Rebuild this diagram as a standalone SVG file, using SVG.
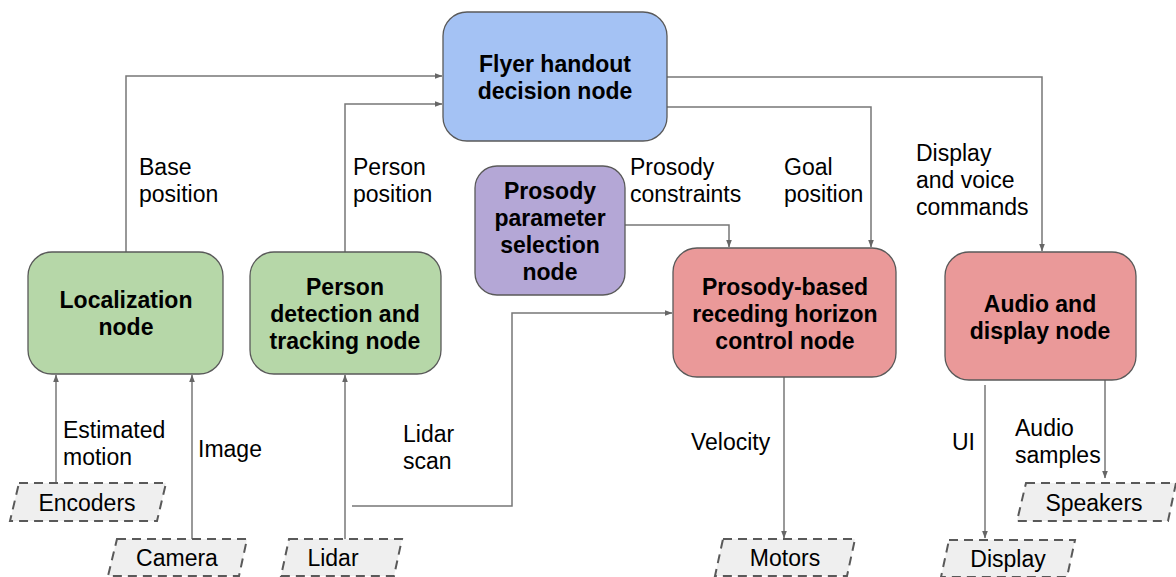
<svg xmlns="http://www.w3.org/2000/svg" width="1176" height="577" viewBox="0 0 1176 577">
<style>
.node{stroke:#595959;stroke-width:1.3}
.t{font-family:"Liberation Sans",Arial,sans-serif;font-size:23px;fill:#000}
.b{font-weight:bold;text-anchor:middle}
.io{fill:#efefef;stroke:#595959;stroke-width:2;stroke-dasharray:9 6}
.c{fill:none;stroke:#777;stroke-width:1.5}
</style>
<defs>
<marker id="a" markerWidth="8" markerHeight="8" refX="7" refY="4" orient="auto" markerUnits="userSpaceOnUse">
<path d="M0,1.2 L7.5,4 L0,6.8 Z" fill="#666"/>
</marker>
</defs>
<rect width="1176" height="577" fill="#fff"/>
<g id="connectors">
<path class="c" d="M126,252 V76 H442" marker-end="url(#a)"/>
<path class="c" d="M345,252 V104 H442" marker-end="url(#a)"/>
<path class="c" d="M667,77 H1042 V251" marker-end="url(#a)"/>
<path class="c" d="M667,107 H871 V247" marker-end="url(#a)"/>
<path class="c" d="M625,225 H729 V247" marker-end="url(#a)"/>
<path class="c" d="M352,506 H512 V313 H672" marker-end="url(#a)"/>
<path class="c" d="M345,539 V375" marker-end="url(#a)"/>
<path class="c" d="M56,483 V375" marker-end="url(#a)"/>
<path class="c" d="M192,539 V375" marker-end="url(#a)"/>
<path class="c" d="M784,377 V538" marker-end="url(#a)"/>
<path class="c" d="M985,385 V538" marker-end="url(#a)"/>
<path class="c" d="M1105,380 V478" marker-end="url(#a)"/>
<text class="t" x="139" y="175">Base</text>
<text class="t" x="139" y="202">position</text>
<text class="t" x="353" y="175">Person</text>
<text class="t" x="353" y="202">position</text>
<text class="t" x="630" y="175">Prosody</text>
<text class="t" x="630" y="202">constraints</text>
<text class="t" x="784" y="175">Goal</text>
<text class="t" x="784" y="202">position</text>
<text class="t" x="916" y="161">Display</text>
<text class="t" x="916" y="188">and voice</text>
<text class="t" x="916" y="215">commands</text>
<text class="t" x="63" y="438">Estimated</text>
<text class="t" x="63" y="465">motion</text>
<text class="t" x="198" y="457">Image</text>
<text class="t" x="403" y="442">Lidar</text>
<text class="t" x="403" y="469">scan</text>
<text class="t" x="691" y="450">Velocity</text>
<text class="t" x="952" y="450">UI</text>
<text class="t" x="1015" y="436">Audio</text>
<text class="t" x="1015" y="463">samples</text>
</g>
<g id="flyer">
<rect class="node" x="443" y="12" width="224" height="129" rx="24" fill="#a4c2f4"/>
<text class="t b" x="555" y="72">Flyer handout</text>
<text class="t b" x="555" y="99">decision node</text>
</g>
<g id="localization">
<rect class="node" x="28" y="252" width="195" height="122" rx="24" fill="#b6d7a8"/>
<text class="t b" x="126" y="308">Localization</text>
<text class="t b" x="126" y="335">node</text>
</g>
<g id="person">
<rect class="node" x="250" y="252" width="191" height="122" rx="24" fill="#b6d7a8"/>
<text class="t b" x="345" y="295">Person</text>
<text class="t b" x="345" y="322">detection and</text>
<text class="t b" x="345" y="349">tracking node</text>
</g>
<g id="prosody-param">
<rect class="node" x="475" y="166" width="150" height="129" rx="22" fill="#b4a7d6"/>
<text class="t b" x="550" y="199">Prosody</text>
<text class="t b" x="550" y="226">parameter</text>
<text class="t b" x="550" y="253">selection</text>
<text class="t b" x="550" y="280">node</text>
</g>
<g id="prosody-control">
<rect class="node" x="673" y="248" width="223" height="129" rx="24" fill="#ea9999"/>
<text class="t b" x="785" y="295">Prosody-based</text>
<text class="t b" x="785" y="322">receding horizon</text>
<text class="t b" x="785" y="349">control node</text>
</g>
<g id="audio">
<rect class="node" x="945" y="252" width="191" height="128" rx="24" fill="#ea9999"/>
<text class="t b" x="1040" y="312">Audio and</text>
<text class="t b" x="1040" y="339">display node</text>
</g>
<g id="encoders">
<path class="io" d="M19,483 H166 L157,521 H10 Z"/>
<text class="t" x="87" y="511" text-anchor="middle">Encoders</text>
</g>
<g id="camera">
<path class="io" d="M117,539 H247 L239,576 H108 Z"/>
<text class="t" x="177" y="566" text-anchor="middle">Camera</text>
</g>
<g id="lidar">
<path class="io" d="M289,539 H402 L394,576 H281 Z"/>
<text class="t" x="333" y="566" text-anchor="middle">Lidar</text>
</g>
<g id="motors">
<path class="io" d="M723,539 H855 L847,576 H715 Z"/>
<text class="t" x="785" y="566" text-anchor="middle">Motors</text>
</g>
<g id="speakers">
<path class="io" d="M1026,483 H1176 L1168,521 H1017 Z"/>
<text class="t" x="1094" y="511" text-anchor="middle">Speakers</text>
</g>
<g id="display">
<path class="io" d="M949,540 H1075 L1067,577 H941 Z"/>
<text class="t" x="1008" y="567" text-anchor="middle">Display</text>
</g>
</svg>
